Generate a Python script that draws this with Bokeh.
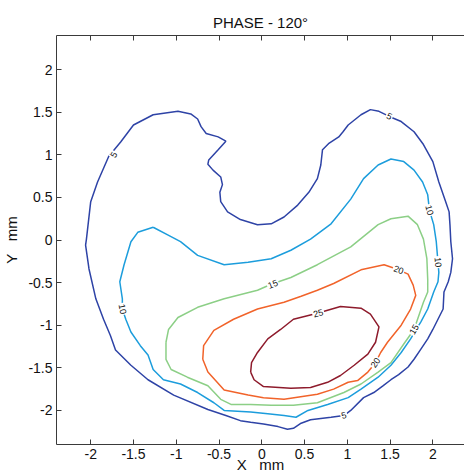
from bokeh.plotting import figure
from bokeh.models import Range1d, LinearAxis, FixedTicker, ColumnDataSource
from bokeh.core.properties import value
from bokeh.embed import file_html
from bokeh.resources import INLINE

title_text = "PHASE - 120\u00b0"
x_label = "X\u00a0\u00a0\u00a0mm"
y_label = "Y\u00a0\u00a0\u00a0mm"

tick_values = [-2, -1.5, -1, -0.5, 0, 0.5, 1, 1.5, 2]
tick_labels = ["-2", "-1.5", "-1", "-0.5", "0", "0.5", "1", "1.5", "2"]

levels = [5, 10, 15, 20, 25]
level_colors = ["#2e43a6", "#1c9ddc", "#8ccf86", "#f1632a", "#8e1b2c"]

c5_x = [-2.05, -2.00, -1.92, -1.79, -1.65, -1.50, -1.27, -0.98, -0.83, -0.75, -0.71, -0.65,
        -0.51, -0.42, -0.51, -0.62, -0.63, -0.57, -0.48, -0.46, -0.49, -0.48, -0.40, -0.25,
        -0.05, 0.11, 0.26, 0.42, 0.55, 0.65, 0.69, 0.71, 0.78, 0.90, 0.95, 1.01, 1.16, 1.27,
        1.37, 1.49, 1.63, 1.78, 1.89, 2.00, 2.07, 2.15, 2.19, 2.20, 2.21, 2.23, 2.21, 2.18,
        2.13, 2.12, 2.06, 2.00, 1.94, 1.86, 1.78, 1.71, 1.60, 1.51, 1.42, 1.31, 1.19, 1.04,
        0.96, 0.81, 0.57, 0.46, 0.37, 0.30, 0.19, 0.02, -0.13, -0.25, -0.42, -0.63, -1.03,
        -1.33, -1.53, -1.71, -1.77, -1.85, -1.94, -2.02, -2.06, -2.05]
c5_y = [0.01, 0.45, 0.68, 0.98, 1.15, 1.35, 1.47, 1.51, 1.48, 1.42, 1.33, 1.25,
        1.21, 1.16, 1.06, 0.94, 0.89, 0.82, 0.74, 0.65, 0.56, 0.45, 0.33, 0.24,
        0.18, 0.19, 0.27, 0.41, 0.56, 0.72, 0.88, 1.06, 1.13, 1.21, 1.27, 1.35, 1.47, 1.53,
        1.51, 1.45, 1.39, 1.27, 1.12, 0.92, 0.68, 0.45, 0.33, 0.18, -0.02, -0.22, -0.38, -0.49,
        -0.61, -0.81, -0.93, -1.05, -1.16, -1.28, -1.40, -1.49, -1.58, -1.64, -1.71, -1.79, -1.85, -2.00,
        -2.06, -2.08, -2.11, -2.15, -2.21, -2.22, -2.19, -2.16, -2.14, -2.12, -2.06, -1.99, -1.82,
        -1.64, -1.47, -1.29, -1.12, -0.93, -0.69, -0.34, -0.06, 0.01]

c10_x = [-1.27, -1.10, -0.95, -0.75, -0.44, -0.16, 0.11, 0.34, 0.57, 0.81, 1.04, 1.19, 1.36,
         1.51, 1.66, 1.78, 1.88, 1.94, 1.96, 2.01, 2.04, 2.06, 2.07, 2.06, 2.01, 1.94, 1.86,
         1.74, 1.63, 1.51, 1.36, 1.16, 1.01, 0.77, 0.54, 0.40, 0.26, 0.07, -0.13, -0.44, -0.56,
         -0.75, -0.95, -1.15, -1.27, -1.33, -1.42, -1.53, -1.59, -1.63, -1.63, -1.66, -1.61,
         -1.53, -1.45, -1.27]
c10_y = [0.15, 0.06, -0.02, -0.18, -0.29, -0.26, -0.22, -0.12, 0.01, 0.19, 0.48, 0.72, 0.88,
         0.95, 0.92, 0.82, 0.68, 0.53, 0.35, 0.18, -0.02, -0.26, -0.38, -0.49, -0.61, -0.81, -0.96,
         -1.16, -1.32, -1.47, -1.61, -1.75, -1.85, -1.93, -2.00, -2.08, -2.06, -2.04, -2.02, -2.00, -1.91,
         -1.79, -1.69, -1.64, -1.52, -1.35, -1.24, -1.08, -0.93, -0.81, -0.69, -0.49, -0.29,
         -0.02, 0.09, 0.15]

c15_x = [-1.12, -1.09, -0.98, -0.75, -0.44, -0.05, 0.11, 0.34, 0.65, 1.04, 1.36, 1.51, 1.71,
         1.82, 1.89, 1.93, 1.94, 1.94, 1.89, 1.78, 1.66, 1.51, 1.36, 1.16, 0.96, 0.65, 0.37,
         0.11, -0.13, -0.36, -0.48, -0.63, -0.87, -1.06, -1.12, -1.12]
c15_y = [-1.20, -1.05, -0.91, -0.79, -0.69, -0.59, -0.52, -0.44, -0.29, -0.08, 0.18, 0.25, 0.28,
         0.18, 0.01, -0.22, -0.46, -0.61, -0.73, -1.05, -1.22, -1.44, -1.55, -1.69, -1.79, -1.91, -1.94,
         -1.94, -1.93, -1.93, -1.87, -1.71, -1.61, -1.52, -1.40, -1.20]

c20_x = [-0.69, -0.68, -0.56, -0.33, -0.05, 0.26, 0.46, 0.65, 0.84, 1.16, 1.43, 1.60, 1.71,
         1.77, 1.80, 1.74, 1.63, 1.47, 1.39, 1.33, 1.24, 1.12, 1.01, 0.84, 0.65, 0.26, 0.02,
         -0.16, -0.44, -0.63, -0.69]
c20_y = [-1.40, -1.24, -1.06, -0.93, -0.81, -0.73, -0.66, -0.59, -0.51, -0.35, -0.29, -0.35, -0.40,
         -0.53, -0.65, -0.81, -1.00, -1.20, -1.32, -1.44, -1.55, -1.65, -1.67, -1.75, -1.81, -1.87, -1.85,
         -1.82, -1.76, -1.55, -1.40]

c25_x = [-0.13, -0.12, -0.05, 0.07, 0.22, 0.37, 0.65, 0.92, 1.16, 1.27, 1.37, 1.33, 1.24,
         1.08, 0.92, 0.77, 0.57, 0.34, 0.02, -0.09, -0.13]
c25_y = [-1.55, -1.44, -1.32, -1.16, -1.05, -0.93, -0.86, -0.78, -0.80, -0.87, -1.02, -1.20, -1.34,
         -1.47, -1.59, -1.67, -1.73, -1.74, -1.72, -1.64, -1.55]

contour_xs = [c5_x, c10_x, c15_x, c20_x, c25_x]
contour_ys = [c5_y, c10_y, c15_y, c20_y, c25_y]

label_text = ["5", "5", "5", "10", "10", "10", "15", "15", "20", "20", "25"]
label_x = [-1.73, 1.49, 0.96, -1.63, 1.96, 2.06, 0.13, 1.78, 1.60, 1.33, 0.66]
label_y = [1.00, 1.45, -2.06, -0.81, 0.35, -0.26, -0.52, -1.05, -0.35, -1.44, -0.86]
label_angle = [60, -25, 15, -78, -75, -85, 21, 60, -20, 56, 15]

FONT = "Liberation Sans"

p = figure(width=464, height=475, output_backend="svg", toolbar_location=None,
           x_range=Range1d(-2.4, 2.37), y_range=Range1d(-2.4, 2.4),
           x_axis_type=None, y_axis_type=None,
           min_border_left=56, min_border_right=0, min_border_top=35, min_border_bottom=31)
p.outline_line_color = None
p.background_fill_color = "white"
p.border_fill_color = "white"

p.title.text = title_text
p.title.align = "center"
p.title.text_font = FONT
p.title.text_font_size = "15px"
p.title.text_font_style = "normal"
p.title.text_color = "#111111"
p.title.standoff = 9

overrides = {v: s for v, s in zip(tick_values, tick_labels)}

def style_axis(ax, show_labels=True):
    ax.ticker = FixedTicker(ticks=tick_values)
    ax.major_label_overrides = overrides
    ax.major_tick_in = 5
    ax.major_tick_out = 0
    ax.minor_tick_in = 0
    ax.minor_tick_out = 0
    ax.axis_line_color = "#3a3a3a"
    ax.major_tick_line_color = "#3a3a3a"
    ax.major_label_text_font = FONT
    ax.major_label_text_font_size = "14px" if show_labels else "0px"
    ax.major_label_text_color = "#111111" if show_labels else None
    ax.major_label_standoff = 4 if show_labels else 0
    ax.axis_label_text_font = FONT
    ax.axis_label_text_font_size = "15px"
    ax.axis_label_text_font_style = "normal"
    ax.axis_label_text_color = "#111111"

xb = LinearAxis(axis_label=x_label)
style_axis(xb)
xb.axis_label_standoff = -6
p.add_layout(xb, "below")
yl = LinearAxis(axis_label=y_label)
style_axis(yl)
yl.axis_label_standoff = 5
p.add_layout(yl, "left")
xt = LinearAxis()
style_axis(xt, show_labels=False)
p.add_layout(xt, "above")

for xs, ys, col in zip(contour_xs, contour_ys, level_colors):
    p.line(xs, ys, line_color=col, line_width=1.5)

src = ColumnDataSource(dict(x=label_x, y=label_y, text=label_text, angle=label_angle))
p.text(x="x", y="y", text="text", angle="angle", angle_units="deg", source=src,
       text_font=value(FONT), text_font_size="9px", text_color="#111111",
       text_align="center", text_baseline="middle",
       background_fill_color="white", padding=1)

open("out.html", "w").write(file_html(p, INLINE))
